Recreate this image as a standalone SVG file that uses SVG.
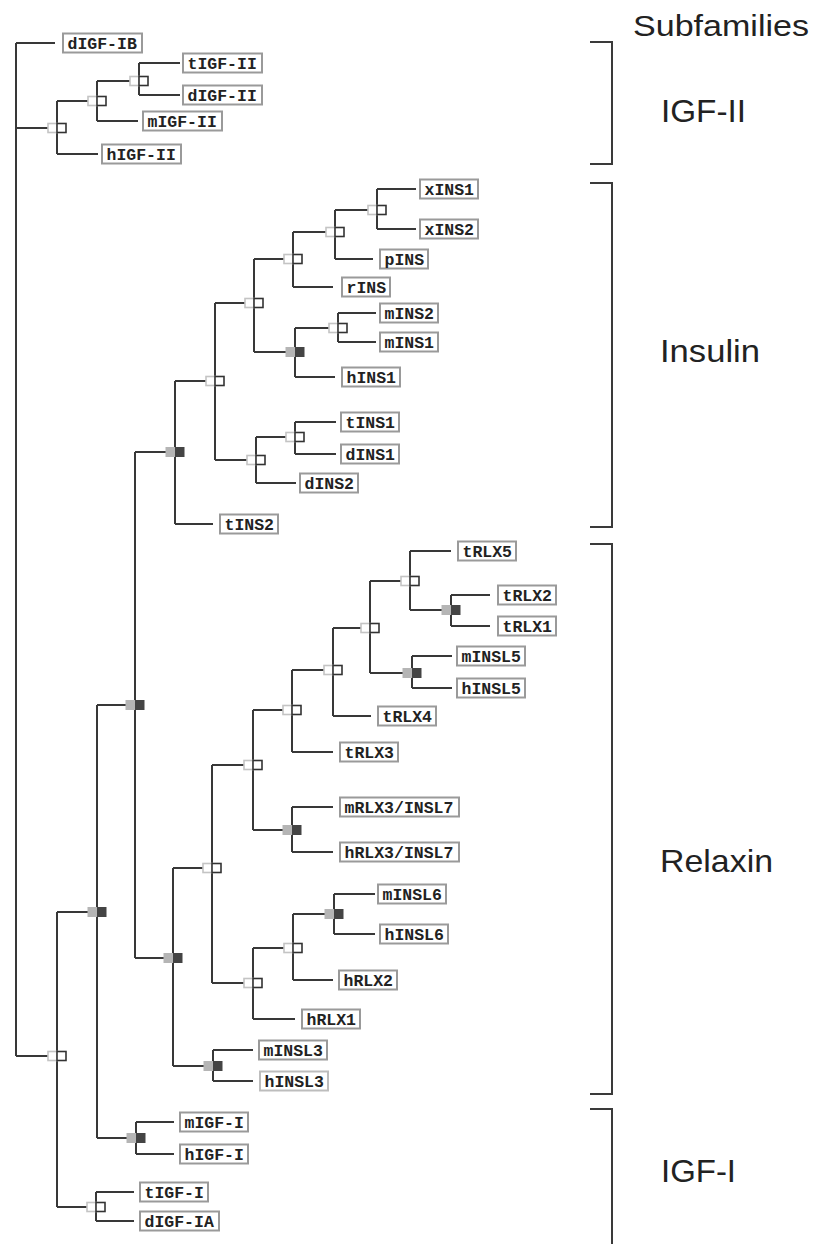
<svg xmlns="http://www.w3.org/2000/svg" xmlns:xlink="http://www.w3.org/1999/xlink" width="825" height="1244" viewBox="0 0 825 1244">
<style>
.c{fill:none;stroke:#383838;stroke-width:2}
.br{fill:none;stroke:#3a3a3a;stroke-width:2}
.lb rect{fill:#fff;stroke:#9a9a9a;stroke-width:2}
.lb text{font-family:"Liberation Mono","DejaVu Sans Mono",monospace;font-weight:bold;font-size:16.5px;fill:#222}
.ol{fill:#fff;stroke:#c4c4c4;stroke-width:1.6}
.or{fill:#fff;stroke:#333;stroke-width:1.6}
.fl{fill:#b5b5b5}
.fr{fill:#444}
.sf{font-family:"Liberation Sans",Arial,sans-serif;font-size:32px;fill:#222}
</style>
<defs>
<g id="no"><rect class="ol" x="-9" y="-4.5" width="9" height="9"/><rect class="or" x="0" y="-4.5" width="9" height="9"/></g>
<g id="nf"><rect class="fl" x="-9.5" y="-5" width="9.5" height="10"/><rect class="fr" x="0" y="-5" width="9.5" height="10"/></g>
</defs>
<rect width="825" height="1244" fill="#fff"/>
<g id="connectors">
<path class="c" d="M16 43V1056M16 43H55M16 128H57M16 1056H57"/>
<path class="c" d="M57 101V154M57 101H97M57 154H98"/>
<path class="c" d="M97 81V121M97 81H139M97 121H138"/>
<path class="c" d="M139 63V95M139 63H180M139 95H180"/>
<path class="c" d="M57 912V1207M57 912H97M57 1207H96"/>
<path class="c" d="M97 705V1138M97 705H135M97 1138H136"/>
<path class="c" d="M136 1122V1154M136 1122H174M136 1154H174"/>
<path class="c" d="M96 1192V1221M96 1192H134M96 1221H134"/>
<path class="c" d="M135 452V958M135 452H175M135 958H173"/>
<path class="c" d="M175 381V524M175 381H215M175 524H213"/>
<path class="c" d="M215 303V460M215 303H254M215 460H256"/>
<path class="c" d="M254 259V352M254 259H293M254 352H295"/>
<path class="c" d="M293 232V287M293 232H335M293 287H333"/>
<path class="c" d="M335 210V259M335 210H377M335 259H373"/>
<path class="c" d="M377 189V229M377 189H416M377 229H416"/>
<path class="c" d="M295 328V377M295 328H338M295 377H335"/>
<path class="c" d="M338 313V342M338 313H376M338 342H376"/>
<path class="c" d="M256 437V483M256 437H295M256 483H296"/>
<path class="c" d="M295 422V454M295 422H336M295 454H336"/>
<path class="c" d="M173 868V1066M173 868H212M173 1066H213"/>
<path class="c" d="M212 765V983M212 765H253M212 983H253"/>
<path class="c" d="M253 710V830M253 710H292M253 830H292"/>
<path class="c" d="M292 670V752M292 670H333M292 752H333"/>
<path class="c" d="M333 628V716M333 628H370M333 716H371"/>
<path class="c" d="M370 581V673M370 581H410M370 673H412"/>
<path class="c" d="M410 551V610M410 551H451M410 610H451"/>
<path class="c" d="M451 595V626M451 595H490M451 626H490"/>
<path class="c" d="M412 656V688M412 656H452M412 688H452"/>
<path class="c" d="M292 807V852M292 807H333M292 852H333"/>
<path class="c" d="M253 948V1019M253 948H293M253 1019H295"/>
<path class="c" d="M293 914V980M293 914H334M293 980H333"/>
<path class="c" d="M334 894V934M334 894H375M334 934H375"/>
<path class="c" d="M213 1050V1081M213 1050H253M213 1081H253"/>
</g>
<g id="internal-nodes">
<use id="nA" href="#no" x="139" y="81"/>
<use id="nB" href="#no" x="97" y="101"/>
<use id="nC" href="#no" x="57" y="128"/>
<use id="nD" href="#no" x="57" y="1056"/>
<use id="nE" href="#nf" x="97" y="912"/>
<use id="nF" href="#nf" x="135" y="705"/>
<use id="nG" href="#nf" x="136" y="1138"/>
<use id="nH" href="#no" x="96" y="1207"/>
<use id="nI" href="#nf" x="175" y="452"/>
<use id="nK" href="#no" x="215" y="381"/>
<use id="nL" href="#no" x="254" y="303"/>
<use id="nQ" href="#no" x="293" y="259"/>
<use id="nR" href="#no" x="335" y="232"/>
<use id="nS" href="#no" x="377" y="210"/>
<use id="nO" href="#nf" x="295" y="352"/>
<use id="nP" href="#no" x="338" y="328"/>
<use id="nM" href="#no" x="256" y="460"/>
<use id="nN" href="#no" x="295" y="437"/>
<use id="nJ" href="#nf" x="173" y="958"/>
<use id="nT" href="#no" x="212" y="868"/>
<use id="nU" href="#no" x="253" y="765"/>
<use id="nZ" href="#no" x="292" y="710"/>
<use id="nAB" href="#no" x="333" y="670"/>
<use id="nAC" href="#no" x="370" y="628"/>
<use id="nAD" href="#no" x="410" y="581"/>
<use id="nAE" href="#nf" x="451" y="610"/>
<use id="nAF" href="#nf" x="412" y="673"/>
<use id="nAA" href="#nf" x="292" y="830"/>
<use id="nV" href="#no" x="253" y="983"/>
<use id="nW" href="#no" x="293" y="948"/>
<use id="nX" href="#nf" x="334" y="914"/>
<use id="nY" href="#nf" x="213" y="1066"/>
</g>
<g id="dIGF-IB" class="lb"><rect x="63" y="33.5" width="79" height="19"/><text x="67.5" y="48.5">dIGF-IB</text></g>
<g id="tIGF-II" class="lb"><rect x="183" y="53.5" width="79" height="19"/><text x="187.5" y="68.5">tIGF-II</text></g>
<g id="dIGF-II" class="lb"><rect x="183" y="85.5" width="79" height="19"/><text x="187.5" y="100.5">dIGF-II</text></g>
<g id="mIGF-II" class="lb"><rect x="143" y="111.5" width="79" height="19"/><text x="147.5" y="126.5">mIGF-II</text></g>
<g id="hIGF-II" class="lb"><rect x="102" y="144.5" width="79" height="19"/><text x="106.5" y="159.5">hIGF-II</text></g>
<g id="xINS1" class="lb"><rect x="420" y="179.5" width="58" height="19"/><text x="424.5" y="194.5">xINS1</text></g>
<g id="xINS2" class="lb"><rect x="420" y="219.5" width="58" height="19"/><text x="424.5" y="234.5">xINS2</text></g>
<g id="pINS" class="lb"><rect x="380" y="249.5" width="48" height="19"/><text x="384.5" y="264.5">pINS</text></g>
<g id="rINS" class="lb"><rect x="342" y="277.5" width="48" height="19"/><text x="346.5" y="292.5">rINS</text></g>
<g id="mINS2" class="lb"><rect x="380" y="303.5" width="58" height="19"/><text x="384.5" y="318.5">mINS2</text></g>
<g id="mINS1" class="lb"><rect x="380" y="332.5" width="58" height="19"/><text x="384.5" y="347.5">mINS1</text></g>
<g id="hINS1" class="lb"><rect x="342" y="367.5" width="58" height="19"/><text x="346.5" y="382.5">hINS1</text></g>
<g id="tINS1" class="lb"><rect x="341" y="412.5" width="58" height="19"/><text x="345.5" y="427.5">tINS1</text></g>
<g id="dINS1" class="lb"><rect x="341" y="444.5" width="58" height="19"/><text x="345.5" y="459.5">dINS1</text></g>
<g id="dINS2" class="lb"><rect x="300" y="473.5" width="58" height="19"/><text x="304.5" y="488.5">dINS2</text></g>
<g id="tINS2" class="lb"><rect x="220" y="514.5" width="58" height="19"/><text x="224.5" y="529.5">tINS2</text></g>
<g id="tRLX5" class="lb"><rect x="458" y="541.5" width="58" height="19"/><text x="462.5" y="556.5">tRLX5</text></g>
<g id="tRLX2" class="lb"><rect x="498" y="585.5" width="58" height="19"/><text x="502.5" y="600.5">tRLX2</text></g>
<g id="tRLX1" class="lb"><rect x="498" y="616.5" width="58" height="19"/><text x="502.5" y="631.5">tRLX1</text></g>
<g id="mINSL5" class="lb"><rect x="457" y="646.5" width="68" height="19"/><text x="461.5" y="661.5">mINSL5</text></g>
<g id="hINSL5" class="lb"><rect x="457" y="678.5" width="68" height="19"/><text x="461.5" y="693.5">hINSL5</text></g>
<g id="tRLX4" class="lb"><rect x="378" y="706.5" width="58" height="19"/><text x="382.5" y="721.5">tRLX4</text></g>
<g id="tRLX3" class="lb"><rect x="340" y="742.5" width="58" height="19"/><text x="344.5" y="757.5">tRLX3</text></g>
<g id="mRLX3-INSL7" class="lb"><rect x="340" y="797.5" width="119" height="19"/><text x="344.5" y="812.5">mRLX3/INSL7</text></g>
<g id="hRLX3-INSL7" class="lb"><rect x="340" y="842.5" width="119" height="19"/><text x="344.5" y="857.5">hRLX3/INSL7</text></g>
<g id="mINSL6" class="lb"><rect x="378" y="884.5" width="68" height="19"/><text x="382.5" y="899.5">mINSL6</text></g>
<g id="hINSL6" class="lb"><rect x="380" y="924.5" width="68" height="19"/><text x="384.5" y="939.5">hINSL6</text></g>
<g id="hRLX2" class="lb"><rect x="339" y="970.5" width="58" height="19"/><text x="343.5" y="985.5">hRLX2</text></g>
<g id="hRLX1" class="lb"><rect x="302" y="1009.5" width="58" height="19"/><text x="306.5" y="1024.5">hRLX1</text></g>
<g id="mINSL3" class="lb"><rect x="259" y="1040.5" width="68" height="19"/><text x="263.5" y="1055.5">mINSL3</text></g>
<g id="hINSL3" class="lb"><rect x="260" y="1071.5" width="68" height="19" style="stroke:#bdbdbd"/><text x="264.5" y="1086.5">hINSL3</text></g>
<g id="mIGF-I" class="lb"><rect x="180" y="1112.5" width="68" height="19"/><text x="184.5" y="1127.5">mIGF-I</text></g>
<g id="hIGF-I" class="lb"><rect x="180" y="1144.5" width="68" height="19"/><text x="184.5" y="1159.5">hIGF-I</text></g>
<g id="tIGF-I" class="lb"><rect x="140" y="1182.5" width="68" height="19"/><text x="144.5" y="1197.5">tIGF-I</text></g>
<g id="dIGF-IA" class="lb"><rect x="140" y="1211.5" width="79" height="19"/><text x="144.5" y="1226.5">dIGF-IA</text></g>
<g id="subfamilies">
<text class="sf" x="633" y="36" textLength="176" lengthAdjust="spacingAndGlyphs" style="font-size:30px">Subfamilies</text>
<path class="br" d="M590 42H612V164H590"/>
<text class="sf" x="661" y="122" textLength="85" lengthAdjust="spacingAndGlyphs">IGF-II</text>
<path class="br" d="M590 183H612V527H590"/>
<text class="sf" x="660" y="362" textLength="100" lengthAdjust="spacingAndGlyphs">Insulin</text>
<path class="br" d="M590 544H612V1094H590"/>
<text class="sf" x="660" y="872" textLength="113" lengthAdjust="spacingAndGlyphs">Relaxin</text>
<path class="br" d="M590 1109H612V1244"/>
<text class="sf" x="661" y="1182" textLength="75" lengthAdjust="spacingAndGlyphs">IGF-I</text>
</g>
</svg>
